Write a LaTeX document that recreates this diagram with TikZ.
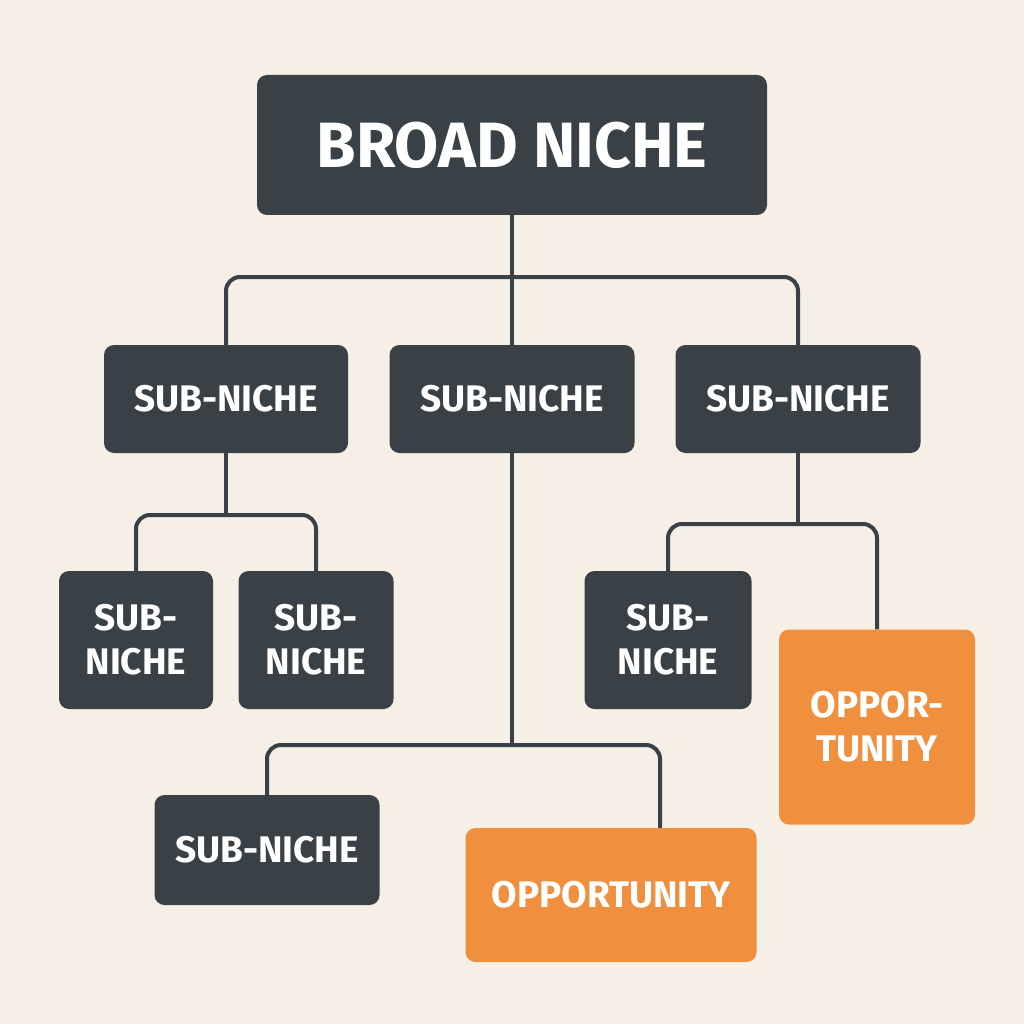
\documentclass[tikz,border=0pt]{standalone}
\usepackage{fontspec}
\setmainfont{Fira Sans}
\begin{document}
\begin{tikzpicture}[x=1pt,y=-1pt,
  box/.style={fill=dk,rounded corners=10pt,text=white,font=\fontsize{37}{44}\selectfont\bfseries,align=center,inner sep=0pt},
  opp/.style={box,fill=og},
  conn/.style={draw=dk,line width=4pt,rounded corners=14pt}]
\definecolor{dk}{HTML}{3A4146}
\definecolor{og}{HTML}{F0903E}
\definecolor{bg}{HTML}{F5EFE5}
\fill[bg] (0,0) rectangle (1024,1024);
\useasboundingbox (0,0) rectangle (1024,1024);
\node[box,minimum width=510pt,minimum height=140pt,font=\fontsize{64}{70}\selectfont\bfseries] (b) at (512,145) {BROAD NICHE};
\node[box,minimum width=244pt,minimum height=108pt] (s1) at (226,399) {SUB-NICHE};
\node[box,minimum width=245pt,minimum height=108pt] (s2) at (512,399) {SUB-NICHE};
\node[box,minimum width=245pt,minimum height=108pt] (s3) at (798,399) {SUB-NICHE};
\node[box,minimum width=154pt,minimum height=138pt] (c1) at (136,640) {SUB-\\NICHE};
\node[box,minimum width=155pt,minimum height=138pt] (c2) at (316,640) {SUB-\\NICHE};
\node[box,minimum width=167pt,minimum height=138pt] (c3) at (668,640) {SUB-\\NICHE};
\node[opp,minimum width=196pt,minimum height=195pt] (o1) at (877,727) {OPPOR-\\TUNITY};
\node[box,minimum width=225pt,minimum height=110pt] (c4) at (267,850) {SUB-NICHE};
\node[opp,minimum width=291pt,minimum height=134pt] (o2) at (611,895) {OPPORTUNITY};
\coordinate (j1) at (512,277);
\coordinate (j2) at (226,515);
\coordinate (j3) at (512,745);
\coordinate (j4) at (798,524);
\draw[conn] (b.south) -- (s2.north);
\draw[conn] (s1.north) |- (j1) -| (s3.north);
\draw[conn] (s1.south) -- (j2);
\draw[conn] (c1.north) |- (j2) -| (c2.north);
\draw[conn] (s2.south) -- (j3);
\draw[conn] (c4.north) |- (j3) -| ([xshift=49pt]o2.north);
\draw[conn] (s3.south) -- (j4);
\draw[conn] (c3.north) |- (j4) -| (o1.north);
\end{tikzpicture}
\end{document}
